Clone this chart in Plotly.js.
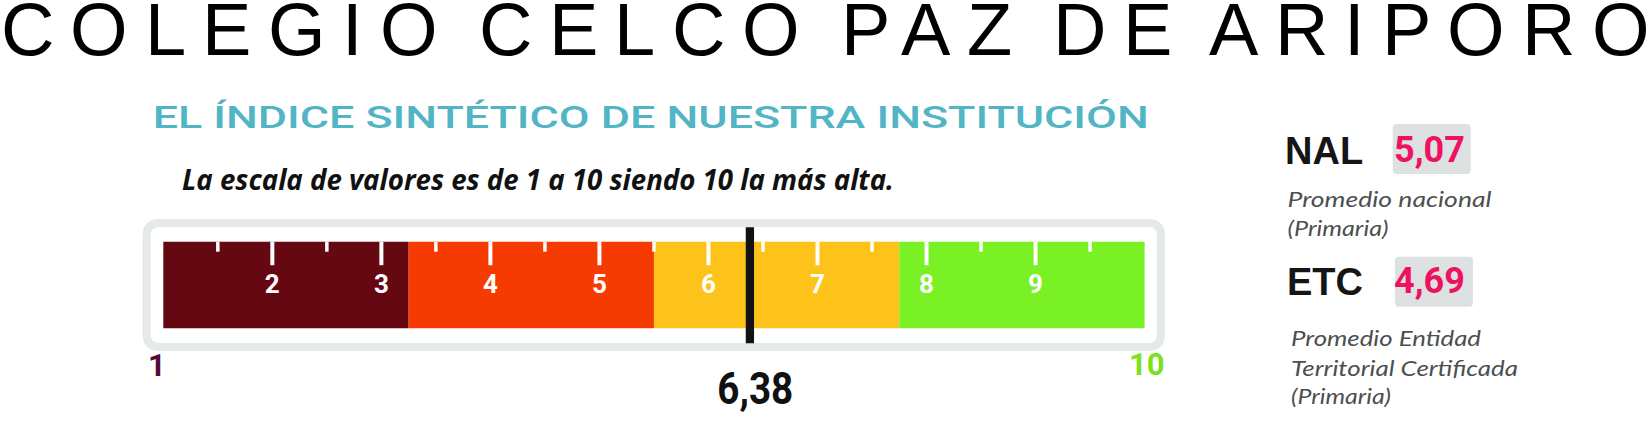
<!DOCTYPE html>
<html><head><meta charset="utf-8">
<script src="https://cdn.plot.ly/plotly-3.0.1.min.js"></script>
<style>
html,body{margin:0;padding:0;background:#fff;overflow:hidden}
@font-face {
  font-family: 'TitleSans';
  src: local('Liberation Sans'), local('LiberationSans'), local('LiberationSans-Regular');
  ascent-override: 73%; descent-override: 21%; line-gap-override: 0%;
}
</style>
</head><body>
<div id="chart" style="width:1651px;height:448px"></div>
<script>
// ---------- data ----------
const schoolName = 'COLEGIO CELCO PAZ DE ARIPORO';
const chartTitle = 'EL ÍNDICE SINTÉTICO DE NUESTRA INSTITUCIÓN';
const scaleNote = 'La escala de valores es de 1 a 10 siendo 10 la más alta.';
const scaleMin = 1;
const scaleMax = 10;
const bandStarts = [1, 3.25, 5.5, 7.75];
const bandEnds = [3.25, 5.5, 7.75, 10];
const majorTicks = [2, 3, 4, 5, 6, 7, 8, 9];
const majorTickLabels = ['2', '3', '4', '5', '6', '7', '8', '9'];
const minorTicks = [1.5, 2.5, 3.5, 4.5, 5.5, 6.5, 7.5, 8.5, 9.5];
const indexValue = 6.38;
const refCodes = ['NAL', 'ETC'];
const refValues = [5.07, 4.69];
const refDescriptions = [
  ['Promedio nacional', '(Primaria)'],
  ['Promedio Entidad', 'Territorial Certificada', '(Primaria)']
];

// ---------- style ----------
const W = 1651, H = 448;
const bandColors = ['#660812', '#f53b02', '#fdc31b', '#79f124'];
const cond = "Roboto, 'DejaVu Sans Condensed', sans-serif";
const sans = "'Liberation Sans', Arial, sans-serif";
const titleFont = "TitleSans, 'Liberation Sans', Arial, sans-serif";
const fmt = v => v.toFixed(2).replace('.', ',');
const pxL = 163.3, pxR = 1144.6;
const unit = (pxR - pxL) / (scaleMax - scaleMin);
const fx = p => p / W;

const barTop = 241.7, barBot = 328.3, barMid = (barTop + barBot) / 2;

function segs(vals, y0, y1) {
  const xs = [], ys = [];
  vals.forEach(v => { xs.push(v, v, null); ys.push(y0, y1, null); });
  return {xs, ys};
}
const minorSeg = segs(minorTicks, barTop, barTop + 10);
const majorSeg = segs(majorTicks, barTop, barTop + 23.5);

const data = [
  {type: 'bar', orientation: 'h', base: bandStarts,
   x: bandEnds.map((e, i) => e - bandStarts[i]),
   y: bandStarts.map(() => barMid), width: barBot - barTop,
   marker: {color: bandColors, line: {width: 0}}, hoverinfo: 'skip'},
  {type: 'scatter', mode: 'lines', x: minorSeg.xs, y: minorSeg.ys,
   line: {color: '#ffffff', width: 3.5}, hoverinfo: 'skip'},
  {type: 'scatter', mode: 'lines', x: majorSeg.xs, y: majorSeg.ys,
   line: {color: '#ffffff', width: 4}, hoverinfo: 'skip'},
  {type: 'scatter', mode: 'text', x: majorTicks, y: majorTicks.map(() => 286.5),
   text: majorTickLabels, textposition: 'middle center',
   textfont: {family: cond, size: 26, color: '#ffffff', weight: 'bold'}, hoverinfo: 'skip'},
  {type: 'scatter', mode: 'lines', x: [indexValue, indexValue], y: [227.3, 343.3],
   line: {color: '#121212', width: 8.3}, hoverinfo: 'skip'}
];

function roundRectPath(x0, y0, x1, y1, r) {
  const rx = r / W;
  const X0 = fx(x0), X1 = fx(x1);
  return `M ${X0 + rx},${y0} L ${X1 - rx},${y0} Q ${X1},${y0} ${X1},${y0 + r} ` +
         `L ${X1},${y1 - r} Q ${X1},${y1} ${X1 - rx},${y1} L ${X0 + rx},${y1} ` +
         `Q ${X0},${y1} ${X0},${y1 - r} L ${X0},${y0 + r} Q ${X0},${y0} ${X0 + rx},${y0} Z`;
}

const shapes = [
  {type: 'path', xref: 'paper', yref: 'y', layer: 'below',
   path: roundRectPath(146.5, 223, 1161, 347, 13),
   line: {color: '#e5e9e9', width: 8}, fillcolor: 'rgba(0,0,0,0)'},
  {type: 'path', xref: 'paper', yref: 'y', layer: 'below',
   path: roundRectPath(1392.7, 124, 1470.7, 174, 4),
   line: {width: 0}, fillcolor: '#dde1e1'},
  {type: 'path', xref: 'paper', yref: 'y', layer: 'below',
   path: roundRectPath(1395, 256.7, 1473, 306.7, 4),
   line: {width: 0}, fillcolor: '#dde1e1'}
];

function ann(o) {
  return Object.assign({showarrow: false, borderpad: 0, borderwidth: 0, yref: 'y'}, o);
}

const annotations = [
  ann({text: schoolName, xref: 'paper', x: 0, xanchor: 'left', align: 'left', y: 35.8, yanchor: 'middle',
       font: {family: titleFont, size: 74, color: '#000000'}}),
  ann({text: chartTitle, xref: 'paper', x: fx(152), xanchor: 'left', align: 'left', y: 117.4, yanchor: 'middle',
       font: {family: "Roboto, sans-serif", size: 32, color: '#52b5c6', weight: 500}}),
  ann({text: scaleNote, xref: 'paper', x: fx(182), xanchor: 'left', align: 'left', y: 179, yanchor: 'middle',
       font: {family: "'Open Sans', sans-serif", size: 28, color: '#111111', weight: 'bold', style: 'italic'}}),
  ann({text: String(scaleMin), xref: 'x', x: scaleMin, xshift: -6, y: 365.5, yanchor: 'middle',
       font: {family: cond, size: 31, color: '#520c3b', weight: 'bold'}}),
  ann({text: String(scaleMax), xref: 'x', x: scaleMax, xshift: 2.5, y: 364.5, yanchor: 'middle',
       font: {family: cond, size: 31, color: '#7ee01e', weight: 'bold'}}),
  ann({text: fmt(indexValue), xref: 'x', x: indexValue, xshift: 5.5, y: 388, yanchor: 'middle',
       font: {family: cond, size: 45, color: '#111111', weight: 'bold'}})
];

const codeY = [150.5, 282.2];
const codeX = [1285.3, 1287.3];
const valueX = [1429.5, 1429];
const descBase = [[206.7, 235], [345, 375, 403]];
refCodes.forEach((c, i) => {
  annotations.push(ann({text: c, xref: 'paper', x: fx(codeX[i]), xanchor: 'left', y: codeY[i], yanchor: 'middle',
    font: {family: sans, size: 38, color: '#151515', weight: 'bold'}}));
  annotations.push(ann({text: fmt(refValues[i]), xref: 'paper', x: fx(valueX[i]), xanchor: 'center', y: codeY[i] - 1, yanchor: 'middle',
    font: {family: cond, size: 36, color: '#ee1260', weight: 'bold'}}));
  refDescriptions[i].forEach((line, j) => {
    annotations.push(ann({text: line, xref: 'paper', x: fx(1288.5), xanchor: 'left', align: 'left',
      y: descBase[i][j] - 8, yanchor: 'middle',
      font: {family: 'Lato, sans-serif', size: 21, color: '#4d4f4f', style: 'italic'}}));
  });
});

const layout = {
  width: W, height: H, margin: {l: 0, r: 0, t: 0, b: 0},
  paper_bgcolor: '#ffffff', plot_bgcolor: '#ffffff', showlegend: false,
  xaxis: {range: [scaleMin - pxL / unit, scaleMin + (W - pxL) / unit], visible: false, fixedrange: true},
  yaxis: {range: [H, 0], visible: false, fixedrange: true},
  shapes: shapes, annotations: annotations
};

const hostRect = () => document.getElementById('chart').getBoundingClientRect();
function findTexts(str) {
  return Array.from(document.querySelectorAll('#chart text')).filter(t => t.textContent === str);
}
function moveX(el, dx) {
  const nodes = [el].concat(Array.from(el.querySelectorAll('tspan[x]')));
  nodes.forEach(n => n.setAttribute('x', (parseFloat(n.getAttribute('x')) || 0) + dx));
}
function stretchLeft(el, width, left) {
  el.setAttribute('textLength', width);
  el.setAttribute('lengthAdjust', 'spacingAndGlyphs');
  const r = el.getBoundingClientRect();
  moveX(el, left - (r.left - hostRect().left));
}
function stretchCenter(el, width) {
  const r0 = el.getBoundingClientRect();
  const c0 = r0.left + r0.width / 2;
  el.setAttribute('textLength', width);
  el.setAttribute('lengthAdjust', 'spacingAndGlyphs');
  const r1 = el.getBoundingClientRect();
  moveX(el, c0 - (r1.left + r1.width / 2));
}

function draw() {
  return Plotly.newPlot('chart', data, layout, {staticPlot: true, displayModeBar: false}).then(() => {
    findTexts(schoolName).forEach(t => {
      t.style.wordSpacing = '-13px';
      let ls = 14;
      for (let k = 0; k < 4; k++) {
        t.style.letterSpacing = ls + 'px';
        const w = t.getBoundingClientRect().width;
        ls += (1649 + ls - w) / 28;
      }
      t.style.letterSpacing = ls + 'px';
      const head = schoolName.slice(0, -1), tail = schoolName.slice(-1);
      t.textContent = head;
      const sp = document.createElementNS('http://www.w3.org/2000/svg', 'tspan');
      sp.textContent = tail;
      sp.style.letterSpacing = '0px';
      t.appendChild(sp);
      const r = t.getBoundingClientRect();
      moveX(t, 0.5 - (r.left - hostRect().left));
    });
    findTexts(chartTitle).forEach(s => stretchLeft(s, 996, 152.7));
    findTexts(scaleNote).forEach(s => stretchLeft(s, 712, 182));
    findTexts(fmt(indexValue)).forEach(s => stretchCenter(s, 76));
    const descWidths = [[204, 101], [190, 227, 100]];
    const descLeft = [1287.5, 1291];
    refDescriptions.forEach((lines, i) => {
      lines.forEach((line, j) => {
        const els = findTexts(line);
        const el = els.length > 1 ? els[i] : els[0];
        if (el) stretchLeft(el, descWidths[i][j], descLeft[i]);
      });
    });
  });
}

(document.fonts && document.fonts.load ? document.fonts.load('74px TitleSans').catch(() => null) : Promise.resolve())
  .then(draw, draw);
</script>
</body></html>
